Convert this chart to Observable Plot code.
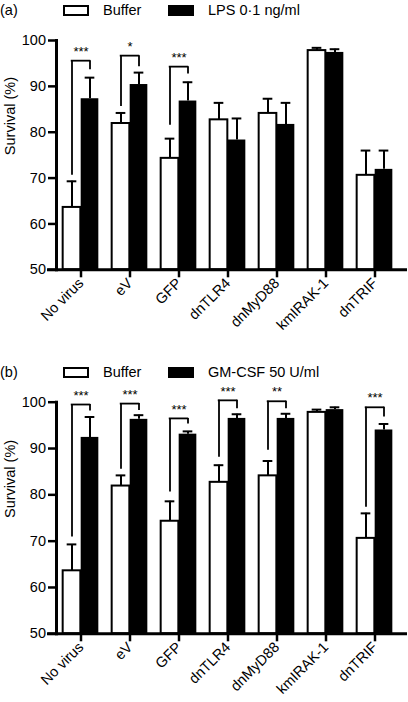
<!DOCTYPE html>
<html>
<head>
<meta charset="utf-8">
<script src="https://cdn.jsdelivr.net/npm/d3@7"></script>
<script src="https://cdn.jsdelivr.net/npm/@observablehq/plot@0.6"></script>
<style>
  html, body { margin: 0; padding: 0; background: #fff; }
  body { font-family: "Liberation Sans", Arial, Helvetica, sans-serif; }
  #wrap { position: relative; width: 408px; height: 702px; overflow: hidden; }
  .leg { position: absolute; left: 0; width: 408px; height: 20px; font-size: 14.5px; line-height: 20px; color: #000; }
  .leg span { position: absolute; top: 0; white-space: nowrap; }
  .leg .box { position: absolute; top: 5px; width: 26px; height: 11px; box-sizing: border-box; border: 2px solid #000; }
  .svgholder { position: absolute; left: 0; }
</style>
</head>
<body>
<div id="wrap">
  <div class="leg" id="legA" style="top:0px">
    <span style="left:0">(a)</span>
    <div class="box" style="left:63px;background:#fff"></div>
    <span style="left:103px">Buffer</span>
    <div class="box" style="left:168px;background:#000"></div>
    <span style="left:208px">LPS 0·1 ng/ml</span>
  </div>
  <div class="svgholder" id="plotA" style="top:20px"></div>
  <div class="leg" id="legB" style="top:362px">
    <span style="left:0">(b)</span>
    <div class="box" style="left:63px;background:#fff"></div>
    <span style="left:103px">Buffer</span>
    <div class="box" style="left:168px;background:#000"></div>
    <span style="left:208px">GM-CSF 50 U/ml</span>
  </div>
  <div class="svgholder" id="plotB" style="top:382px"></div>
</div>
<script>
// ---- data ----
const groups = ["No virus", "eV", "GFP", "dnTLR4", "dnMyD88", "kmIRAK-1", "dnTRIF"];
const yTicks = [50, 60, 70, 80, 90, 100];

const bufferMean = [63.6, 81.9, 74.3, 82.7, 84.1, 97.8, 70.6];
const bufferSd   = [5.7, 2.3, 4.3, 3.7, 3.2, 0.6, 5.4];

const lpsMean = [87.3, 90.4, 86.8, 78.3, 81.7, 97.4, 71.9];
const lpsSd   = [4.6, 2.6, 4.1, 4.7, 4.7, 0.7, 4.1];

const gmMean = [92.4, 96.3, 93.1, 96.5, 96.5, 98.4, 94.0];
const gmSd   = [4.4, 0.9, 0.6, 0.9, 1.0, 0.5, 1.3];

// significance brackets: group, label, bracket top, left leg bottom, right leg bottom
const sigA_group = ["No virus", "eV", "GFP"];
const sigA_label = ["***", "*", "***"];
const sigA_top   = [95.6, 96.7, 94.3];
const sigA_left  = [70.6, 85.6, 81.5];
const sigA_right = [93.6, 94.3, 92.7];

const sigB_group = ["No virus", "eV", "GFP", "dnTLR4", "dnMyD88", "dnTRIF"];
const sigB_label = ["***", "***", "***", "***", "**", "***"];
const sigB_top   = [99.5, 99.7, 96.5, 100.4, 100.2, 98.9];
const sigB_left  = [70.9, 85.5, 80.6, 88.1, 89.6, 77.3];
const sigB_right = [98.1, 98.2, 95.3, 98.6, 98.6, 96.8];

// ---- drawing ----
const W = 408;
const xRange = [55.3, 400.7];
const band = (xRange[1] - xRange[0]) / groups.length;
const half = band / 2;
const barW = 18;
const off = 9; // bar center offset from group center

function makePanel(tMean, tSd, sg, sl, st, sLeft, sRight, opts) {
  const buf = groups.map((g, i) => ({group: g, mean: bufferMean[i], top: bufferMean[i] + bufferSd[i]}));
  const trt = groups.map((g, i) => ({group: g, mean: tMean[i], top: tMean[i] + tSd[i]}));
  const sig = sg.map((g, i) => ({group: g, label: sl[i], top: st[i], left: sLeft[i], right: sRight[i]}));
  const bw = 1.8;
  return Plot.plot({
    width: W,
    height: opts.height,
    marginTop: opts.mT,
    marginBottom: opts.mB,
    marginLeft: 48,
    marginRight: 3,
    style: {fontFamily: "'Liberation Sans', Arial, Helvetica, sans-serif", fontSize: "14.5px", color: "#000", background: "#fff"},
    x: {domain: groups, range: xRange, padding: 0, label: null},
    y: {domain: [50, 100], label: null},
    marks: [
      // bars
      Plot.barY(buf, {x: "group", y1: 50, y2: "mean", fill: "#fff", stroke: "#000", strokeWidth: 2,
        insetLeft: half - barW, insetRight: half}),
      Plot.barY(trt, {x: "group", y1: 50, y2: "mean", fill: "#000",
        insetLeft: half, insetRight: half - barW}),
      // error bars
      Plot.ruleX(buf, {x: "group", y1: "mean", y2: "top", dx: -off, stroke: "#000", strokeWidth: 2}),
      Plot.tickY(buf, {x: "group", y: "top", stroke: "#000", strokeWidth: 2,
        insetLeft: half - off - 5, insetRight: half + off - 5}),
      Plot.ruleX(trt, {x: "group", y1: "mean", y2: "top", dx: off, stroke: "#000", strokeWidth: 2}),
      Plot.tickY(trt, {x: "group", y: "top", stroke: "#000", strokeWidth: 2,
        insetLeft: half + off - 5, insetRight: half - off - 5}),
      // significance brackets
      Plot.ruleX(sig, {x: "group", y1: "left", y2: "top", dx: -off, stroke: "#000", strokeWidth: bw}),
      Plot.ruleX(sig, {x: "group", y1: "right", y2: "top", dx: off, stroke: "#000", strokeWidth: bw}),
      Plot.tickY(sig, {x: "group", y: "top", stroke: "#000", strokeWidth: bw,
        insetLeft: half - off - bw / 2, insetRight: half - off - bw / 2}),
      Plot.text(sig, {x: "group", y: "top", text: "label", dy: -9, fontSize: 13, fill: "#000"}),
      // axes
      Plot.axisY({ticks: yTicks, tickSize: 8, dx: 8, tickPadding: 2.5, fontSize: 14.5, strokeWidth: 2.5, label: null}),
      Plot.axisX({tickSize: 8, tickRotate: -45, tickPadding: 3, fontSize: 14.5, strokeWidth: 2.5, label: null}),
      Plot.frame({anchor: "bottom", stroke: "#000", strokeWidth: 3}),
      Plot.frame({anchor: "left", dx: 8, stroke: "#000", strokeWidth: 3}),
      Plot.text(["Survival (%)"], {frameAnchor: "left", dx: -38, rotate: -90, fontSize: 14.5, fill: "#000"})
    ]
  });
}

document.getElementById("plotA").appendChild(
  makePanel(lpsMean, lpsSd, sigA_group, sigA_label, sigA_top, sigA_left, sigA_right,
    {height: 330, mT: 20, mB: 80.7})
);
document.getElementById("plotB").appendChild(
  makePanel(gmMean, gmSd, sigB_group, sigB_label, sigB_top, sigB_left, sigB_right,
    {height: 320, mT: 19.7, mB: 68.7})
);
</script>
</body>
</html>
